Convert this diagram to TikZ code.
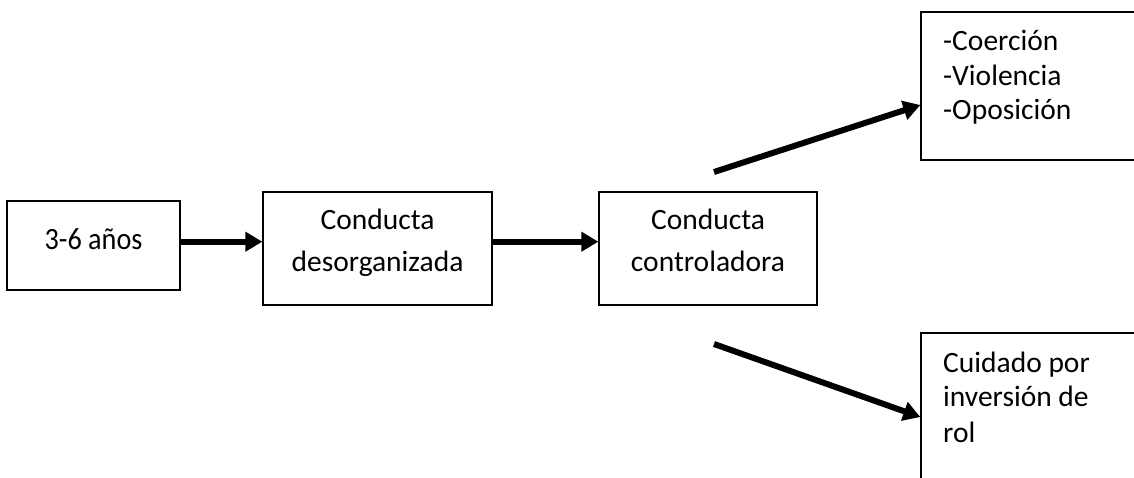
\documentclass[tikz,border=0pt]{standalone}
\usepackage{fontspec}
\setmainfont{Carlito}
\usetikzlibrary{arrows.meta}
\begin{document}
\begin{tikzpicture}[x=1pt,y=-1pt,
  box/.style={draw=black, line width=1.3pt, inner sep=0pt, rectangle},
  lbl/.style={inner sep=0pt, font=\fontsize{29.5}{35}\selectfont},
  arr/.style={line width=6pt, -{Triangle[length=17pt,width=19pt]}}]
\useasboundingbox (0,0) rectangle (1134,478);
\clip (0,0) rectangle (1134,478);
% boxes
\node[box, minimum width=173pt, minimum height=89pt] (b1) at (93.5,245.5) {};
\node[box, minimum width=229pt, minimum height=113pt] (b2) at (377.5,248.5) {};
\node[box, minimum width=218pt, minimum height=113pt] (b3) at (708,248.5) {};
\node[box, minimum width=219pt, minimum height=148pt] (b4) at (1030.5,86) {};
\node[box, minimum width=219pt, minimum height=168pt] (b5) at (1030.5,417) {};
% labels
\node[lbl, anchor=base, font=\fontsize{31}{36}\selectfont] (t1) at (93.5,250) {\scalebox{0.91}[1]{3-6 años}};
\node[lbl, anchor=base] (t2a) at (377.5,230) {Conducta};
\node[lbl, anchor=base] (t2b) at (377.5,271) {desorganizada};
\node[lbl, anchor=base] (t3a) at (708,230) {Conducta};
\node[lbl, anchor=base] (t3b) at (708,271) {controladora};
\node[lbl, anchor=base west] (t4a) at (943,50.7) {-Coerción};
\node[lbl, anchor=base west] (t4b) at (943,85.7) {-Violencia};
\node[lbl, anchor=base west] (t4c) at (943,120) {-Oposición};
\node[lbl, anchor=base west] (t5a) at (943,372.7) {Cuidado por};
\node[lbl, anchor=base west] (t5b) at (943,406.7) {inversión de};
\node[lbl, anchor=base west] (t5c) at (943,442.7) {rol};
% connectors
\coordinate (s4) at (714,172);
\coordinate (s5) at (714,344);
\draw[arr] ([yshift=3.8pt]b1.east) -- ([yshift=6.8pt]b2.west);
\draw[arr] ([yshift=6.8pt]b2.east) -- ([yshift=6.8pt]b3.west);
\draw[arr] (s4) -- ([yshift=-19pt]b4.west);
\draw[arr] (s5) -- (b5.west);
\end{tikzpicture}
\end{document}
